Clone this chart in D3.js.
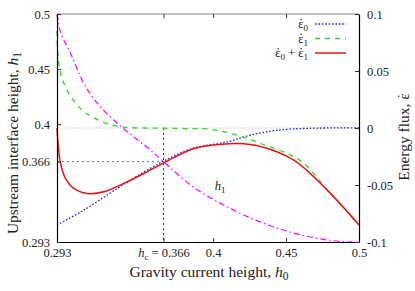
<!DOCTYPE html>
<html lang="en">
<head>
<meta charset="utf-8">
<title>Energy flux</title>
<script src="https://d3js.org/d3.v7.min.js"></script>
<style>
  body { margin: 0; background: #fff; }
  svg text { font-family: "Liberation Serif", "Times New Roman", serif; fill: #222; }
</style>
</head>
<body>
<div id="chart"></div>
<script>
// tick values
var h0Ticks = [0.293, 0.366, 0.4, 0.45, 0.5];
var h1Ticks = [0.293, 0.366, 0.4, 0.45, 0.5];
var epsTicks = [-0.1, -0.05, 0, 0.05, 0.1];
var hc = 0.366;

// eps0 (blue dotted)
var eps0H0 = [0.293, 0.3114, 0.3343, 0.3434, 0.366, 0.3868, 0.4097, 0.4256, 0.4439, 0.4667, 0.5];
var eps0 = [-0.0851, -0.072, -0.053, -0.0457, -0.029, -0.0175, -0.0122, -0.0063, -0.002, -0.0002, 0];

// eps1 (green dashed)
var eps1H0 = [0.293, 0.2935, 0.2954, 0.2988, 0.3034, 0.3103, 0.3171, 0.3262, 0.3377, 0.3523, 0.366, 0.3818, 0.3976, 0.4165, 0.4325, 0.4508, 0.4622, 0.4782, 0.5];
var eps1 = [0.085, 0.066, 0.048, 0.036, 0.026, 0.0155, 0.0097, 0.0044, 0.0009, 0.0, -0.0002, -0.0005, -0.001, -0.0064, -0.0136, -0.0224, -0.031, -0.054, -0.085];

// eps0 + eps1 (red solid)
var sumH0 = [0.293, 0.29355, 0.2954, 0.2988, 0.3045, 0.3137, 0.3251, 0.3388, 0.3525, 0.3674, 0.3868, 0.4, 0.4165, 0.4325, 0.4553, 0.4782, 0.5];
var sumEps = [0.0, -0.0107, -0.0311, -0.0442, -0.053, -0.0574, -0.056, -0.0486, -0.0399, -0.0297, -0.018, -0.015, -0.0136, -0.0162, -0.0282, -0.0545, -0.0851];

// h1 (magenta dash-dot)
var h1H0 = [0.293, 0.2954, 0.3023, 0.3114, 0.3206, 0.3343, 0.3468, 0.3571, 0.366, 0.3866, 0.4099, 0.4325, 0.4551, 0.4784, 0.4962, 0.5];
var h1 = [0.5, 0.4835, 0.4642, 0.437, 0.419, 0.4008, 0.3872, 0.3764, 0.366, 0.3428, 0.3247, 0.3111, 0.3012, 0.2948, 0.293, 0.293];

var W = 415, H = 291;
var L = 57, R = 359, T = 14, B = 242;
var FONT = "'Liberation Serif', 'Times New Roman', serif";

var svg = d3.select("#chart").append("svg")
    .attr("width", W)
    .attr("height", H)
    .attr("font-family", FONT);

var x = d3.scaleLinear().domain([0.293, 0.5]).range([L, R]);
var yH = d3.scaleLinear().domain([0.293, 0.5]).range([B, T]);
var yE = d3.scaleLinear().domain([-0.1, 0.1]).range([B, T]);

// reference lines
svg.append("line")
    .attr("x1", L).attr("x2", R)
    .attr("y1", yE(0)).attr("y2", yE(0))
    .attr("stroke", "#c8c8c8").attr("stroke-width", 1.2)
    .attr("stroke-dasharray", "1.5,1.5");

svg.append("line")
    .attr("x1", L).attr("x2", x(hc))
    .attr("y1", yH(hc)).attr("y2", yH(hc))
    .attr("stroke", "#777").attr("stroke-width", 1)
    .attr("stroke-dasharray", "2,3");

svg.append("line")
    .attr("x1", x(hc)).attr("x2", x(hc))
    .attr("y1", yE(0)).attr("y2", B)
    .attr("stroke", "#444").attr("stroke-width", 1)
    .attr("stroke-dasharray", "2,3");

// curves
function pts(xs, ys) {
    return xs.map(function(d, i) { return [d, ys[i]]; });
}

var lineE = d3.line()
    .x(function(d) { return x(d[0]); })
    .y(function(d) { return yE(d[1]); })
    .curve(d3.curveCatmullRom.alpha(0.5));

var lineH = d3.line()
    .x(function(d) { return x(d[0]); })
    .y(function(d) { return yH(d[1]); })
    .curve(d3.curveCatmullRom.alpha(0.5));

svg.append("path")
    .attr("d", lineH(pts(h1H0, h1)))
    .attr("fill", "none")
    .attr("stroke", "#ff00ff").attr("stroke-width", 1.2)
    .attr("stroke-dasharray", "6,3,1.5,3");

svg.append("path")
    .attr("d", lineE(pts(eps0H0, eps0)))
    .attr("fill", "none")
    .attr("stroke", "#2222ff").attr("stroke-width", 1.3)
    .attr("stroke-dasharray", "1.6,1.8");

svg.append("path")
    .attr("d", lineE(pts(eps1H0, eps1)))
    .attr("fill", "none")
    .attr("stroke", "#22dd22").attr("stroke-width", 1.3)
    .attr("stroke-dasharray", "5,5");

svg.append("path")
    .attr("d", lineE(pts(sumH0, sumEps)))
    .attr("fill", "none")
    .attr("stroke", "#ee1111").attr("stroke-width", 1.5);

// frame top
svg.append("line").attr("x1", L).attr("x2", R).attr("y1", T).attr("y2", T)
    .attr("stroke", "#888").attr("stroke-width", 1.2);

// axes
var fmt = function(d) { return String(d); };

var xAxis = svg.append("g")
    .attr("transform", "translate(0," + B + ")")
    .call(d3.axisBottom(x).tickValues(h0Ticks).tickFormat(fmt).tickSizeInner(-4).tickSizeOuter(0).tickPadding(9));

var xTop = svg.append("g")
    .attr("transform", "translate(0," + T + ")")
    .call(d3.axisTop(x).tickValues(h0Ticks.slice(1, 4)).tickSizeInner(-4).tickSizeOuter(0).tickFormat(""));
xTop.select(".domain").remove();

var yLeft = svg.append("g")
    .attr("transform", "translate(" + L + ",0)")
    .call(d3.axisLeft(yH).tickValues(h1Ticks).tickFormat(fmt).tickSizeInner(-4).tickSizeOuter(0).tickPadding(7));

var yRight = svg.append("g")
    .attr("transform", "translate(" + R + ",0)")
    .call(d3.axisRight(yE).tickValues(epsTicks).tickFormat(fmt).tickSizeInner(-4).tickSizeOuter(0).tickPadding(8));

[xAxis, xTop, yLeft, yRight].forEach(function(g) {
    g.attr("font-family", FONT);
    g.select(".domain").attr("stroke", "#000").attr("stroke-width", 1.2);
    g.selectAll(".tick line").attr("stroke", "#333");
    g.selectAll(".tick text")
        .style("font-family", FONT)
        .style("font-size", "12.5px")
        .attr("fill", "#222");
});

xAxis.selectAll(".tick text").attr("dy", "0.5em");

// hc tick label
xAxis.selectAll(".tick text").filter(function(d) { return d === hc; })
    .each(function() {
        var t = d3.select(this).text("");
        t.append("tspan").attr("font-style", "italic").text("h");
        t.append("tspan").attr("font-size", "9px").attr("dy", 3).text("c");
        t.append("tspan").attr("dy", -3).text(" = 0.366");
    });

// axis titles
var xt = svg.append("text")
    .attr("x", 209)
    .attr("y", 277)
    .attr("text-anchor", "middle")
    .style("font-size", "15.5px");
xt.append("tspan").text("Gravity current height, ");
xt.append("tspan").attr("font-style", "italic").text("h");
xt.append("tspan").attr("font-size", "11.5px").attr("dy", 3).text("0");

var ylt = svg.append("text")
    .attr("transform", "translate(18,143) rotate(-90)")
    .attr("text-anchor", "middle")
    .style("font-size", "15.5px");
ylt.append("tspan").text("Upstream interface height, ");
ylt.append("tspan").attr("font-style", "italic").text("h");
ylt.append("tspan").attr("font-size", "11.5px").attr("dy", 3).text("1");

var yrt = svg.append("text")
    .attr("transform", "translate(409,137) rotate(-90)")
    .attr("text-anchor", "middle")
    .style("font-size", "15.5px");
yrt.append("tspan").text("Energy flux, ");
yrt.append("tspan").text("\u03B5");

// h1 curve label
var hl = svg.append("text")
    .attr("x", x(0.4012))
    .attr("y", yH(0.3405))
    .style("font-size", "12.5px");
hl.append("tspan").attr("font-style", "italic").text("h");
hl.append("tspan").attr("font-size", "9px").attr("dy", 3).text("1");

// legend
var legend = [
    { sub: ["0"], color: "#2222ff", dash: "1.6,1.8", w: 1.3 },
    { sub: ["1"], color: "#22dd22", dash: "5,5", w: 1.3 },
    { sub: ["0", "1"], color: "#ee1111", dash: null, w: 1.5 }
];
var lg = svg.append("g");
legend.forEach(function(d, i) {
    var yy = 24 + i * 14.5;
    var t = lg.append("text")
        .attr("x", 308).attr("y", yy + 4)
        .attr("text-anchor", "end")
        .style("font-size", "12.5px");
    d.sub.forEach(function(s, j) {
        if (j > 0) t.append("tspan").attr("dy", -3).text(" + ");
        t.append("tspan").text("\u03B5");
        t.append("tspan").attr("font-size", "9px").attr("dy", 3).text(s);
    });
    lg.append("line")
        .attr("x1", 315).attr("x2", 346)
        .attr("y1", yy).attr("y2", yy)
        .attr("stroke", d.color)
        .attr("stroke-width", d.w)
        .attr("stroke-dasharray", d.dash);
});

// dot accents over every epsilon (the "dot" of the time derivative)
svg.selectAll("text").each(function() {
    var node = this;
    var str = node.textContent;
    var fs = parseFloat(getComputedStyle(node).fontSize);
    for (var k = 0; k < str.length; k++) {
        if (str[k] !== "\u03B5") continue;
        var ext = node.getExtentOfChar(k);
        var p = node.getStartPositionOfChar(k);
        var rot = node.getRotationOfChar(k);
        var cx, cy;
        var h = 0.66 * fs;
        if (Math.abs(rot + 90) < 1) {
            // rotated text: local "up" is screen left
            cx = ext.x + ext.width / 2; // not used for local placement
        }
        d3.select(node.parentNode).append("circle")
            .attr("cx", p.x + ext.width / 2 + 0.3)
            .attr("cy", p.y - h)
            .attr("r", 0.75)
            .attr("fill", "#222")
            .attr("transform", d3.select(node).attr("transform"));
    }
});
</script>
</body>
</html>
